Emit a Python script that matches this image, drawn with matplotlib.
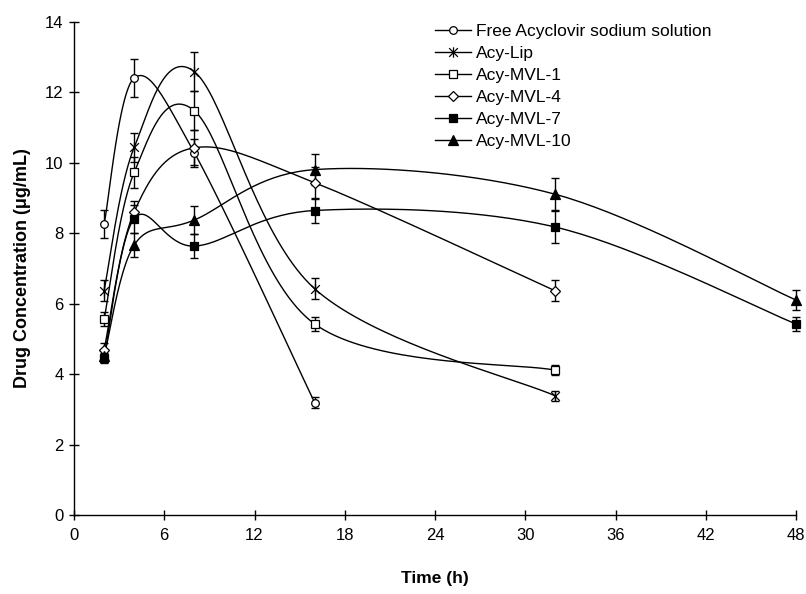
import numpy as np
import matplotlib
matplotlib.use("Agg")
import matplotlib.pyplot as plt
from matplotlib.path import Path

plt.rcParams['font.family'] = ['Liberation Sans', 'DejaVu Sans']

# ---- data ----
series_names = ["Free Acyclovir sodium solution", "Acy-Lip", "Acy-MVL-1",
                "Acy-MVL-4", "Acy-MVL-7", "Acy-MVL-10"]
free_t = [2, 4, 8, 16]
free_c = [8.25, 12.4, 10.28, 3.19]
free_e = [0.4, 0.55, 0.4, 0.15]

lip_t = [2, 4, 8, 16, 32]
lip_c = [6.37, 10.43, 12.58, 6.42, 3.38]
lip_e = [0.3, 0.4, 0.55, 0.3, 0.15]

mvl1_t = [2, 4, 8, 16, 32]
mvl1_c = [5.55, 9.72, 11.47, 5.42, 4.11]
mvl1_e = [0.2, 0.45, 0.55, 0.2, 0.15]

mvl4_t = [2, 4, 8, 16, 32]
mvl4_c = [4.68, 8.6, 10.42, 9.43, 6.36]
mvl4_e = [0.2, 0.3, 0.5, 0.45, 0.3]

mvl7_t = [2, 4, 8, 16, 32, 48]
mvl7_c = [4.45, 8.41, 7.63, 8.64, 8.17, 5.42]
mvl7_e = [0.15, 0.4, 0.35, 0.35, 0.45, 0.2]

mvl10_t = [2, 4, 8, 16, 32, 48]
mvl10_c = [4.5, 7.66, 8.37, 9.8, 9.1, 6.1]
mvl10_e = [0.15, 0.35, 0.4, 0.45, 0.45, 0.28]

x_ticks = [0, 6, 12, 18, 24, 30, 36, 42, 48]
y_ticks = [0, 2, 4, 6, 8, 10, 12, 14]


def excel_smooth(x, y, n=40):
    pts = np.column_stack([np.asarray(x, float), np.asarray(y, float)])
    out = [pts[0]]
    t = np.linspace(0, 1, n)[1:, None]
    for i in range(len(pts) - 1):
        p0 = pts[i - 1] if i > 0 else pts[i]
        p1 = pts[i]
        p2 = pts[i + 1]
        p3 = pts[i + 2] if i + 2 < len(pts) else pts[i + 1]
        c1 = p1 + (p2 - p0) / 6.0
        c2 = p2 - (p3 - p1) / 6.0
        seg = ((1 - t) ** 3) * p1 + 3 * ((1 - t) ** 2) * t * c1 + 3 * (1 - t) * t ** 2 * c2 + t ** 3 * p2
        out.extend(seg)
    out = np.array(out)
    return out[:, 0], out[:, 1]


star = Path([(-1, -1), (1, 1), (-1, 1), (1, -1), (0, -1.2), (0, 1.2)],
            [Path.MOVETO, Path.LINETO, Path.MOVETO, Path.LINETO, Path.MOVETO, Path.LINETO])

styles = [
    dict(marker='o', mfc='white', ms=5.5),
    dict(marker=star, mfc='none', ms=7.5),
    dict(marker='s', mfc='white', ms=5.5),
    dict(marker='D', mfc='white', ms=5.0),
    dict(marker='s', mfc='black', ms=5.5),
    dict(marker='^', mfc='black', ms=6.5),
]

data = [(free_t, free_c, free_e), (lip_t, lip_c, lip_e), (mvl1_t, mvl1_c, mvl1_e),
        (mvl4_t, mvl4_c, mvl4_e), (mvl7_t, mvl7_c, mvl7_e), (mvl10_t, mvl10_c, mvl10_e)]

fig = plt.figure(figsize=(8.06, 5.94), dpi=100)
ax = fig.add_axes([74 / 806, 1 - 515 / 594, (796 - 74) / 806, (515 - 21.6) / 594])

handles = []
for (t, c, e), st, name in zip(data, styles, series_names):
    ax.errorbar(t, c, yerr=e, fmt='none', ecolor='black', elinewidth=1.0,
                capsize=3.2, capthick=1.0, zorder=2, clip_on=False)
    sx, sy = excel_smooth(t, c)
    ax.plot(sx, sy, color='black', lw=1.0, zorder=3, clip_on=False)
    ax.plot(t, c, ls='none', marker=st['marker'], mfc=st['mfc'], mec='black',
            mew=0.9, ms=st['ms'], zorder=4, clip_on=False)
    h, = ax.plot([], [], color='black', lw=1.0, marker=st['marker'], mfc=st['mfc'],
                 mec='black', mew=0.9, ms=st['ms'], label=name)
    handles.append(h)

ax.set_xlim(0, 48)
ax.set_ylim(0, 14)
ax.set_xticks(x_ticks)
ax.set_yticks(y_ticks)
ax.spines['top'].set_visible(False)
ax.spines['right'].set_visible(False)
for s in ('left', 'bottom'):
    ax.spines[s].set_linewidth(1.0)
ax.tick_params(direction='inout', length=7, width=1.0, labelsize=12, pad=4)
ax.tick_params(axis='x', pad=6)

ax.set_xlabel("Time (h)", fontsize=12.5, fontweight='bold', labelpad=20)
ax.set_ylabel("Drug Concentration (\u03bcg/mL)", fontsize=13, fontweight='bold', labelpad=10)

leg = fig.legend(handles=handles, loc='upper left',
                 bbox_to_anchor=(435 / 806, 1 - 23.5 / 594), bbox_transform=fig.transFigure,
                 frameon=False, fontsize=12.5, handlelength=2.07, handletextpad=0.29,
                 labelspacing=0.40, borderpad=0, borderaxespad=0)

fig.savefig("out.png", dpi=100)
